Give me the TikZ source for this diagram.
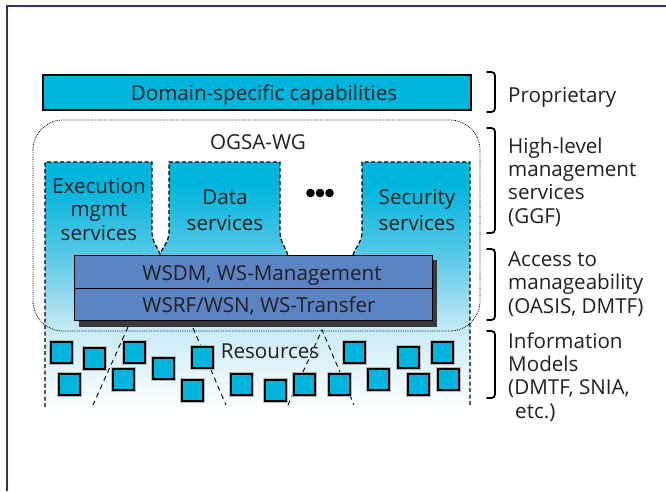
\documentclass[tikz,border=0pt]{standalone}
\usepackage{fontspec}
\setmainfont{Open Sans}
\definecolor{cyanfill}{HTML}{00B5DD}
\definecolor{blockblue}{HTML}{5A84C3}
\definecolor{shadowgray}{HTML}{3A3A3A}
\definecolor{framenavy}{HTML}{2E3272}
\definecolor{inkgray}{HTML}{231F20}
\definecolor{fademid}{HTML}{5FCAE8}
\definecolor{fadepale}{HTML}{C8EBF7}
\begin{document}
\begin{tikzpicture}[x=1pt,y=-1pt,
  every node/.style={text=inkgray, font=\fontsize{20.6}{23.2}\selectfont, inner sep=0pt},
  widelines/.style={font=\fontsize{20.6}{26.4}\selectfont},
  capbox/.style={draw=black, line width=1.6pt, fill=cyanfill},
  layerbox/.style={draw=black, line width=1.1pt, fill=blockblue, anchor=north west},
  resbox/.style={draw=black, line width=2pt, fill=cyanfill, minimum size=21pt,
    anchor=north west, preaction={draw=gray!55, line width=3.4pt}},
  svcedge/.style={draw=black, line width=1.2pt, dash pattern=on 4pt off 2.5pt},
  fanline/.style={draw=black, line width=0.9pt, dash pattern=on 5pt off 4pt},
  groupedge/.style={draw=black, line width=0.8pt, dash pattern=on 0.8pt off 1pt, rounded corners=30pt},
  bracketline/.style={draw=black, line width=1.8pt, line cap=round},
  dot/.style={circle, fill=black, minimum size=8.6pt}
]
\useasboundingbox (0,0) rectangle (666,491);

% page frame (top and left edges)
\draw[framenavy, line width=1.5pt] (7,491) -- (7,6) -- (666,6);

% service region with its vertical fade
\def\svcregion{(45,407) -- (45,162) -- (152,162) -- (152,232)
  .. controls (152,242) and (158,248) .. (160,254)
  .. controls (162,248) and (169,242) .. (169,232) -- (169,162) -- (280,162) -- (280,232)
  .. controls (280,242) and (286,248) .. (288,255) -- (353,255)
  .. controls (355,248) and (362,242) .. (362,232) -- (362,162) -- (470,162) -- (470,407) -- cycle}
\begin{scope}
  \clip \svcregion;
  \fill[cyanfill] (40,150) rectangle (480,186);
  \shade[top color=cyanfill, bottom color=fademid] (40,185) rectangle (480,261);
  \shade[top color=fademid, bottom color=fadepale] (40,260) rectangle (480,331);
  \shade[top color=fadepale, bottom color=white] (40,330) rectangle (480,410);
\end{scope}

% OGSA-WG group outline
\draw[groupedge] (33,120) rectangle (480,331);

% dashed service outlines
\draw[svcedge] (45,407) -- (45,162) -- (152,162) -- (152,232)
  .. controls (152,242) and (158,248) .. (160,254)
  .. controls (162,248) and (169,242) .. (169,232) -- (169,162) -- (280,162) -- (280,232)
  .. controls (280,242) and (286,248) .. (288,255);
\draw[svcedge] (353,255) .. controls (355,248) and (362,242) .. (362,232)
  -- (362,162) -- (470,162) -- (470,407);

% domain-specific capabilities bar
\node[capbox, minimum width=428pt, minimum height=35pt, anchor=north west] (domain) at (42,74) {};
\node[anchor=base] (domaintext) at (264,100) {Domain-specific capabilities};

% manageability layers with drop shadow
\fill[shadowgray] (79,260) rectangle (437,327);
\node[layerbox, minimum width=358pt, minimum height=33pt] (wsdm) at (74,255) {};
\node[layerbox, minimum width=358pt, minimum height=32pt] (wsrf) at (74,288) {};
\node[anchor=base] (wsdmtext) at (262,280) {WSDM, WS-Management};
\node[anchor=base] (wsrftext) at (259,312.5) {WSRF/WSN, WS-Transfer};

% group and service labels (multi-line nodes sit on their last baseline)
\node[anchor=base] (ogsa) at (258,149) {OGSA-WG};
\node[align=center, anchor=base] (exec) at (99,240) {Execution\\mgmt\\services};
\node[align=center, anchor=base, widelines] (data) at (225,230.5) {Data\\services};
\node[align=center, anchor=base, widelines] (security) at (417,230.5) {Security\\services};
\node[dot] (dotA) at (310.5,193) {};
\node[dot] (dotB) at (320,193) {};
\node[dot] (dotC) at (329.5,193) {};

% fan of dashed lines toward the resources
\coordinate (fanAtop) at (128,327);
\coordinate (fanAbot) at (93,405);
\coordinate (fanBtop) at (193,328);
\coordinate (fanBbot) at (226,405);
\coordinate (fanCtop) at (322,330);
\coordinate (fanCleft) at (288,405);
\coordinate (fanCright) at (354,405);
\draw[fanline] (fanAtop) -- (fanAbot);
\draw[fanline] (fanBtop) -- (fanBbot);
\draw[fanline] (fanCleft) -- (fanCtop) -- (fanCright);

% resources
\node[anchor=base] (restext) at (270,358) {Resources};
\node[resbox] (r1) at (50,341) {};
\node[resbox] (r2) at (83,347) {};
\node[resbox] (r3) at (123,341) {};
\node[resbox] (r4) at (152,357) {};
\node[resbox] (r5) at (191,346) {};
\node[resbox] (r6) at (343,341) {};
\node[resbox] (r7) at (397,346) {};
\node[resbox] (r8) at (431,341) {};
\node[resbox] (r9) at (58,373) {};
\node[resbox] (r10) at (112,368) {};
\node[resbox] (r11) at (181,379) {};
\node[resbox] (r12) at (230,373) {};
\node[resbox] (r13) at (264,379) {};
\node[resbox] (r14) at (293,373) {};
\node[resbox] (r15) at (328,373) {};
\node[resbox] (r16) at (367,368) {};
\node[resbox] (r17) at (407,373) {};
\node[resbox] (r18) at (437,368) {};

% standards-body brackets and labels
\draw[bracketline] (487,72) .. controls (495,72) .. (495,80) -- (495,104) .. controls (495,112) .. (487,112);
\draw[bracketline] (487,128) .. controls (495,128) .. (495,136) -- (495,225) .. controls (495,233) .. (487,233);
\draw[bracketline] (487,249) .. controls (495,249) .. (495,257) -- (495,312) .. controls (495,320) .. (487,320);
\draw[bracketline] (487,331) .. controls (495,331) .. (495,339) -- (495,390) .. controls (495,398) .. (487,398);
\node[anchor=base west] (proprietary) at (508,102) {Proprietary};
\node[align=left, anchor=base west] (ggf) at (508,223) {High-level\\management\\services\\(GGF)};
\node[align=left, anchor=base west] (oasis) at (508,313) {Access to\\manageability\\(OASIS, DMTF)};
\node[align=left, anchor=base west] (snia) at (508,418) {Information\\Models\\(DMTF, SNIA,\\\hspace*{7pt}etc.)};
\end{tikzpicture}
\end{document}
